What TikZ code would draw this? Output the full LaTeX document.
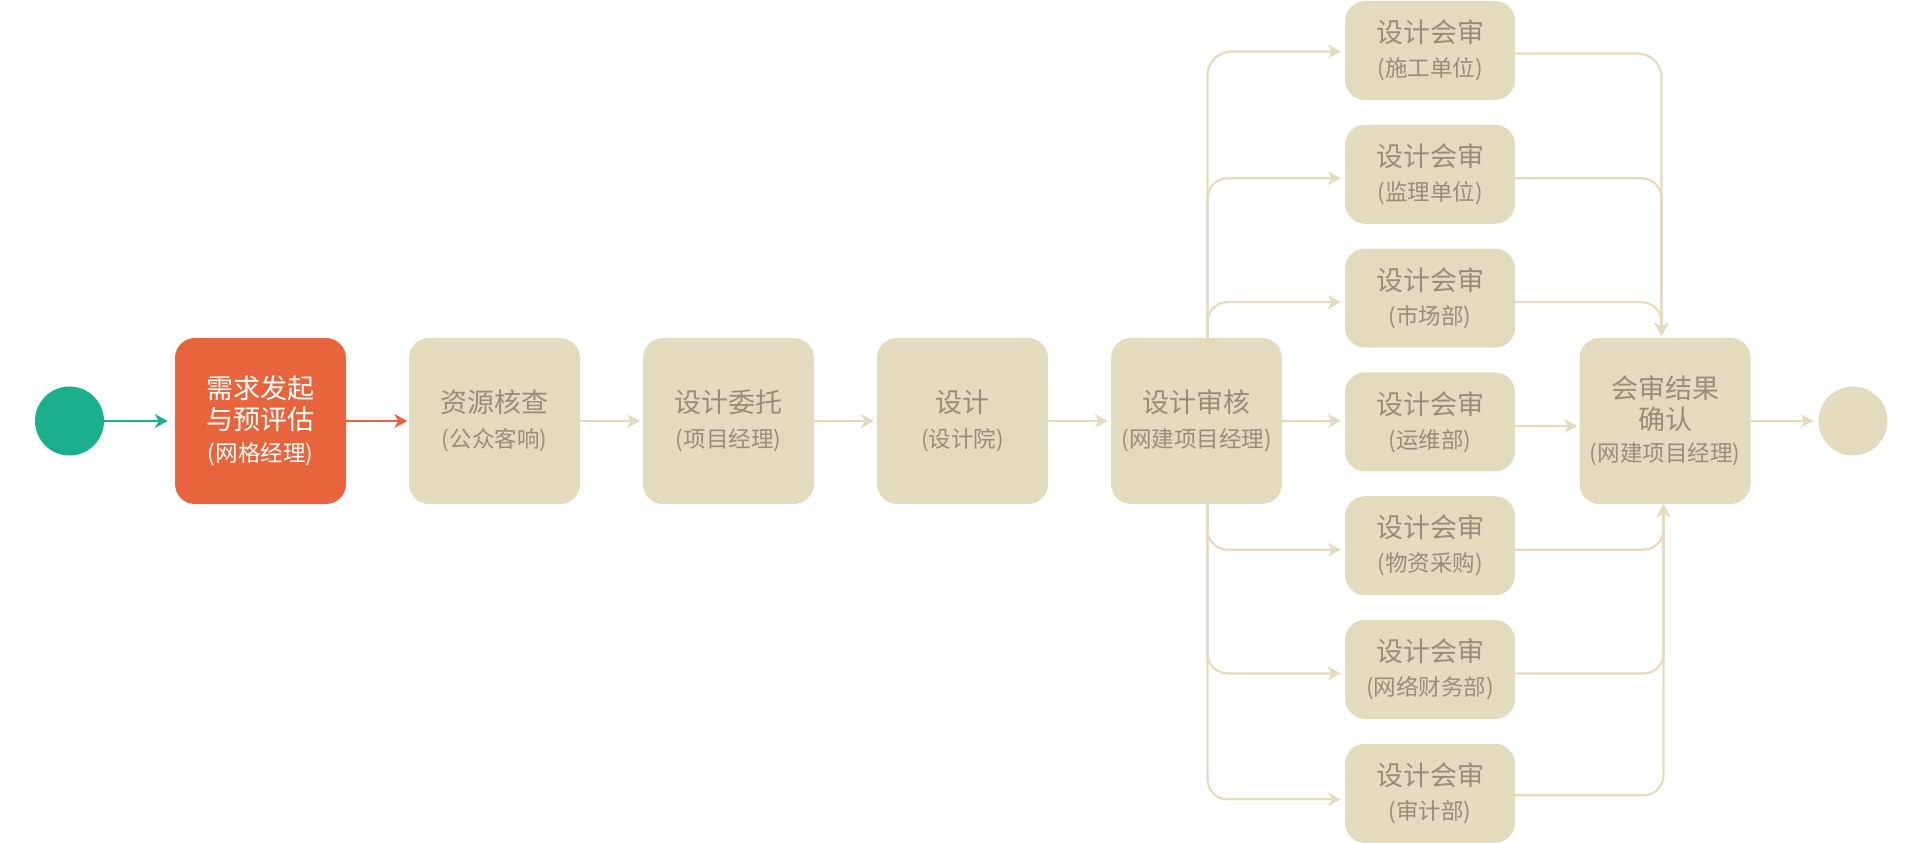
\documentclass[tikz,border=0pt]{standalone}
\usepackage{fontspec}
\setmainfont{Noto Sans CJK SC}
\usetikzlibrary{arrows.meta,calc}

\definecolor{flowgreen}{HTML}{1BB08D}
\definecolor{flowred}{HTML}{E8643C}
\definecolor{flowbeige}{HTML}{E2DBBD}
\definecolor{flowtext}{HTML}{978D79}

% smaller second line naming the role in charge
\newcommand\steprole[1]{{\fontsize{22.5}{30}\selectfont #1}}

\begin{document}
\begin{tikzpicture}[x=1pt,y=-1pt,
  stepbox/.style={rectangle, rounded corners=20pt, fill=flowbeige, text=flowtext,
    minimum width=171pt, minimum height=166pt, inner sep=0pt, align=center,
    font=\fontsize{27}{30}\selectfont},
  hotbox/.style={stepbox, fill=flowred, text=white, font=\fontsize{27}{31}\selectfont},
  reviewbox/.style={stepbox, minimum width=170pt, minimum height=99pt},
  endpoint/.style={circle, minimum size=69pt, inner sep=0pt},
  flow/.style={draw=flowbeige, line width=2.2pt,
    -{Stealth[length=13pt,width=14pt,inset=4pt]}},
]
\useasboundingbox (0,0) rectangle (1919,843);

% main row
\node[endpoint, fill=flowgreen] (start) at (69.5,421) {};
\node[hotbox] (b1) at (260.5,421) {需求发起\\与预评估\\[1.5pt]\steprole{(网格经理)}};
\node[stepbox] (b2) at (494.5,421) {资源核查\\[5pt]\steprole{(公众客响)}};
\node[stepbox] (b3) at (728.5,421) {设计委托\\[5pt]\steprole{(项目经理)}};
\node[stepbox] (b4) at (962.5,421) {设计\\[5pt]\steprole{(设计院)}};
\node[stepbox] (b5) at (1196.5,421) {设计审核\\[5pt]\steprole{(网建项目经理)}};
\node[hotbox, fill=flowbeige, text=flowtext] (b6) at (1665,421) {会审结果\\确认\\[1.5pt]\steprole{(网建项目经理)}};
\node[endpoint, fill=flowbeige] (stop) at (1853,421) {};

% parallel design reviews
\node[reviewbox] (r1) at (1430,50.5) {设计会审\\[4pt]\steprole{(施工单位)}};
\node[reviewbox] (r2) at (1430,174.3) {设计会审\\[4pt]\steprole{(监理单位)}};
\node[reviewbox] (r3) at (1430,298.1) {设计会审\\[4pt]\steprole{(市场部)}};
\node[reviewbox] (r4) at (1430,421.9) {设计会审\\[4pt]\steprole{(运维部)}};
\node[reviewbox] (r5) at (1430,545.7) {设计会审\\[4pt]\steprole{(物资采购)}};
\node[reviewbox] (r6) at (1430,669.5) {设计会审\\[4pt]\steprole{(网络财务部)}};
\node[reviewbox] (r7) at (1430,793.3) {设计会审\\[4pt]\steprole{(审计部)}};

% fan-out and merge points
\path (b5.north) ++(11,0) coordinate (fanU);
\path (b5.south) ++(11,0) coordinate (fanD);
\path (b6.north) ++(-3.5,0) coordinate (mergeU);
\path (b6.south) ++(-1.5,0) coordinate (mergeD);

% main row connectors
\draw[flow, draw=flowgreen, shorten >=7pt] (start) -- (b1);
\draw[flow, draw=flowred, shorten >=1.5pt] (b1) -- (b2);
\draw[flow, shorten >=3pt] (b2) -- (b3);
\draw[flow, shorten >=3pt] (b3) -- (b4);
\draw[flow, shorten >=3pt] (b4) -- (b5);
\draw[flow, shorten >=4pt] (b5) -- (r4.west |- b5.east);
\draw[flow, shorten >=2pt] ([yshift=-4pt]r4.east) -- ([yshift=-4pt]r4.east -| b6.west);
\draw[flow, shorten >=5pt] (b6) -- (stop);

% branches out of the review step
\draw[flow, rounded corners=24pt, shorten >=4pt] (fanU) |- ([yshift=-1pt]r1.west);
\draw[flow, rounded corners=20pt, shorten >=4pt] (fanU) |- ([yshift=-4pt]r2.west);
\draw[flow, rounded corners=20pt, shorten >=4pt] (fanU) |- ([yshift=-4pt]r3.west);
\draw[flow, rounded corners=20pt, shorten >=4pt] (fanD) |- ([yshift=-4pt]r5.west);
\draw[flow, rounded corners=20pt, shorten >=4pt] (fanD) |- ([yshift=-4pt]r6.west);
\draw[flow, rounded corners=20pt, shorten >=4pt] (fanD) |- ([yshift=-6pt]r7.west);

% branches merging into the result confirmation
\draw[flow, rounded corners=24pt, shorten >=2pt] ([yshift=-3pt]r1.east) -| (mergeU);
\draw[flow, rounded corners=20pt, shorten >=2pt] ([yshift=-4pt]r2.east) -| (mergeU);
\draw[flow, rounded corners=20pt, shorten >=2pt] ([yshift=-4pt]r3.east) -| (mergeU);
\draw[flow, rounded corners=20pt] ([yshift=-4pt]r5.east) -| (mergeD);
\draw[flow, rounded corners=20pt] ([yshift=-4pt]r6.east) -| (mergeD);
\draw[flow, rounded corners=20pt] ([yshift=-2pt]r7.east) -| (mergeD);
\end{tikzpicture}
\end{document}
